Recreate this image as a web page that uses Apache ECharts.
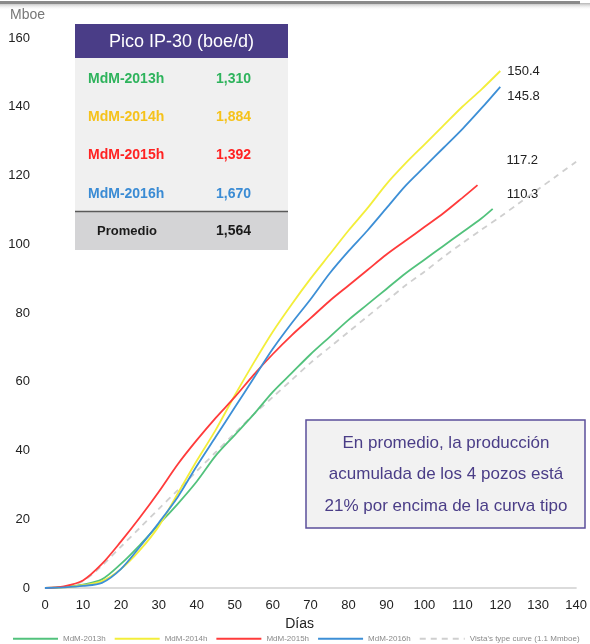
<!DOCTYPE html>
<html>
<head>
<meta charset="utf-8">
<script src="https://cdn.jsdelivr.net/npm/echarts@6/dist/echarts.min.js"></script>
<style>
  html, body { margin: 0; padding: 0; background: #fff; }
  #chart { width: 590px; height: 644px; }
</style>
</head>
<body>
<div id="chart"></div>
<script>
// Cumulative production per well (Mboe) by producing day
const days2013 = [0, 5, 10, 15, 20, 25, 30, 35, 40, 45, 50, 55, 60, 65, 70, 75, 80, 85, 90, 95, 100, 105, 110, 115, 118];
const mdm2013 = [0, 0.3, 1, 2.5, 7, 12.5, 18.5, 24.5, 31, 38.5, 44.5, 50.5, 57, 62.5, 68, 73, 78, 82.5, 87, 91.5, 95.5, 99.5, 103.5, 107.5, 110.3];

const days2014 = [0, 5, 10, 15, 20, 25, 30, 35, 40, 45, 50, 55, 60, 65, 70, 75, 80, 85, 90, 95, 100, 105, 110, 115, 120];
const mdm2014 = [0, 0.2, 0.8, 2, 5.5, 11, 18, 27.5, 37, 46, 56, 65.5, 74.5, 82.5, 90, 97, 104, 110.5, 117.5, 123.5, 129, 134.5, 140, 145, 150.4];

const days2015 = [0, 5, 10, 15, 20, 25, 30, 35, 40, 45, 50, 55, 60, 65, 70, 75, 80, 85, 90, 95, 100, 105, 110, 114];
const mdm2015 = [0, 0.5, 2.2, 7, 13.5, 20.5, 28, 36, 43, 49.5, 55.5, 62, 68, 73.5, 78.5, 83.5, 88, 92.5, 97, 101, 105, 109, 113.5, 117.2];

const days2016 = [0, 5, 10, 15, 20, 25, 30, 35, 40, 45, 50, 55, 60, 65, 70, 75, 80, 85, 90, 95, 100, 105, 110, 115, 120];
const mdm2016 = [0, 0.2, 0.6, 1.5, 5.5, 12, 19, 26.5, 35.5, 44, 52.5, 61, 69.5, 77, 84, 91.5, 98, 104, 110.5, 117, 122.5, 128, 133.5, 139.5, 145.8];

const daysType = [0, 5, 10, 15, 20, 25, 30, 35, 40, 45, 50, 55, 60, 65, 70, 75, 80, 85, 90, 95, 100, 105, 110, 115, 120, 125, 130, 135, 140];
const typeCurve = [0, 0.3, 2, 6.5, 12, 17.5, 23, 28.5, 34, 39.5, 45, 50.5, 55.5, 60.5, 65.5, 70, 74.5, 79, 83.5, 88, 92, 96.3, 100.3, 104.2, 108, 112, 116, 120, 124];

const seriesNames = ['MdM-2013h', 'MdM-2014h', 'MdM-2015h', 'MdM-2016h', "Vista's type curve (1.1 Mmboe)"];
const lineColors = ['#52c27c', '#f3ee3a', '#ff3b3b', '#3d8fd6', '#cfcfcf'];

// Peak IP-30 table
const tableWells = ['MdM-2013h', 'MdM-2014h', 'MdM-2015h', 'MdM-2016h'];
const tablePeakIP = ['1,310', '1,884', '1,392', '1,670'];
const tableTextColors = ['#2eb35c', '#f5c21b', '#ff2222', '#3a8bd4'];
const tableAverage = '1,564';

const noteLines = ['En promedio, la producción', 'acumulada de los 4 pozos está', '21% por encima de la curva tipo'];

const FONT = 'Liberation Sans, Arial, sans-serif';

function pairs(xs, ys) { return xs.map((d, i) => [d, ys[i]]); }

const chart = echarts.init(document.getElementById('chart'), null, { renderer: 'canvas' });

function wellSeries(idx, xs, ys, labelOffset) {
  return {
    name: seriesNames[idx],
    type: 'line',
    data: pairs(xs, ys),
    smooth: 0.3,
    showSymbol: false,
    symbol: 'none',
    lineStyle: { color: lineColors[idx], width: 1.8 },
    itemStyle: { color: lineColors[idx] },
    endLabel: {
      show: true,
      offset: labelOffset,
      distance: 5,
      color: '#222',
      fontSize: 13,
      fontFamily: FONT,
      formatter: p => p.value[1].toFixed(1)
    },
    z: 3
  };
}

// Table graphics
const tableX = 75, tableW = 213;
const tableGraphics = [
  { type: 'rect', shape: { x: tableX, y: 24, width: tableW, height: 34 }, style: { fill: '#4a3d87' } },
  { type: 'text', x: tableX + tableW / 2, y: 42, style: { text: 'Pico IP-30 (boe/d)', fill: '#fff', font: '18px ' + FONT, textAlign: 'center', textVerticalAlign: 'middle' } },
  { type: 'rect', shape: { x: tableX, y: 58, width: tableW, height: 153 }, style: { fill: '#f0f0f0' } },
  { type: 'rect', shape: { x: tableX, y: 212, width: tableW, height: 38 }, style: { fill: '#d4d4d6' } },
  { type: 'line', shape: { x1: tableX, y1: 211.5, x2: tableX + tableW, y2: 211.5 }, style: { stroke: '#5a5a5a', lineWidth: 1.5 } },
  { type: 'text', x: 127, y: 231, style: { text: 'Promedio', fill: '#1a1a1a', font: 'bold 13px ' + FONT, textAlign: 'center', textVerticalAlign: 'middle' } },
  { type: 'text', x: 216, y: 231, style: { text: tableAverage, fill: '#1a1a1a', font: 'bold 14px ' + FONT, textAlign: 'left', textVerticalAlign: 'middle' } }
];
tableWells.forEach((w, i) => {
  const y = 79 + i * 38.3;
  tableGraphics.push({ type: 'text', x: 88, y: y, style: { text: w, fill: tableTextColors[i], font: 'bold 14px ' + FONT, textAlign: 'left', textVerticalAlign: 'middle' } });
  tableGraphics.push({ type: 'text', x: 216, y: y, style: { text: tablePeakIP[i], fill: tableTextColors[i], font: 'bold 14px ' + FONT, textAlign: 'left', textVerticalAlign: 'middle' } });
});

// Note box
const noteGraphics = [
  { type: 'rect', shape: { x: 306, y: 420, width: 279, height: 108 }, style: { fill: '#f2f2f2', stroke: '#5b4f9b', lineWidth: 1.5 } }
];
noteLines.forEach((t, i) => {
  noteGraphics.push({ type: 'text', x: 446, y: 443 + i * 31.5, style: { text: t, fill: '#4a3d87', font: '17px ' + FONT, textAlign: 'center', textVerticalAlign: 'middle' } });
});

// Header rule with soft shadow
const headerGraphics = [
  { type: 'rect', shape: { x: 0, y: 3, width: 590, height: 7 }, style: { fill: new echarts.graphic.LinearGradient(0, 0, 0, 1, [{ offset: 0, color: 'rgba(150,150,150,0.7)' }, { offset: 1, color: 'rgba(255,255,255,0)' }]) } },
  { type: 'rect', shape: { x: 0, y: 1, width: 580, height: 3 }, style: { fill: '#8a8a8a' } }
];

const option = {
  backgroundColor: '#fff',
  animation: false,
  textStyle: { fontFamily: FONT },
  grid: { left: 45, right: 10, top: 38, bottom: 56, containLabel: false },
  legend: {
    left: 7,
    top: 629,
    width: 1200,
    itemWidth: 45,
    itemHeight: 12,
    itemGap: 8,
    itemStyle: { opacity: 0 },
    textStyle: { color: '#8a8a8a', fontSize: 8, fontFamily: FONT },
    data: seriesNames
  },
  xAxis: {
    type: 'value',
    min: 0,
    max: 140,
    interval: 10,
    name: 'Días',
    nameLocation: 'middle',
    nameGap: 29,
    nameTextStyle: { color: '#222', fontSize: 14, padding: [0, 22, 0, 0] },
    axisLine: { show: true, lineStyle: { color: '#d0d0d0', width: 1.5 } },
    axisTick: { show: false },
    splitLine: { show: false },
    axisLabel: { color: '#222', fontSize: 13, margin: 11 }
  },
  yAxis: {
    type: 'value',
    min: 0,
    max: 160,
    interval: 20,
    name: 'Mboe',
    nameLocation: 'end',
    nameGap: 16,
    nameTextStyle: { color: '#777', fontSize: 14, align: 'right' },
    axisLine: { show: false },
    axisTick: { show: false },
    splitLine: { show: false },
    axisLabel: { color: '#222', fontSize: 13, margin: 15 }
  },
  series: [
    {
      name: seriesNames[4],
      type: 'line',
      data: pairs(daysType, typeCurve),
      smooth: 0.3,
      showSymbol: false,
      symbol: 'none',
      lineStyle: { color: lineColors[4], width: 1.8, type: [6, 5] },
      itemStyle: { color: lineColors[4] },
      z: 2
    },
    wellSeries(0, days2013, mdm2013, [9, -14]),
    wellSeries(1, days2014, mdm2014, [2, 0]),
    wellSeries(2, days2015, mdm2015, [24, -25]),
    wellSeries(3, days2016, mdm2016, [2, 10])
  ],
  graphic: headerGraphics.concat(tableGraphics, noteGraphics)
};

chart.setOption(option);
</script>
</body>
</html>
